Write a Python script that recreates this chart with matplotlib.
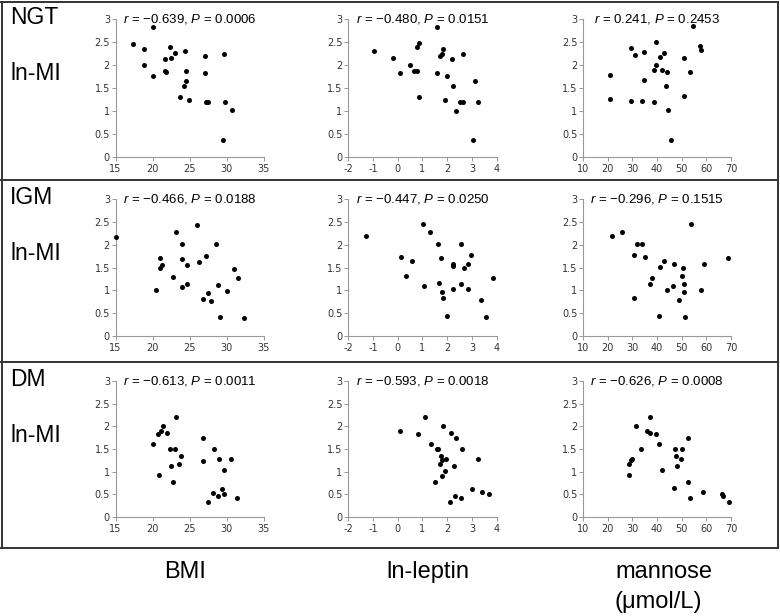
import matplotlib
matplotlib.use("Agg")
import matplotlib.pyplot as plt
from matplotlib.lines import Line2D

plt.rcParams['font.family'] = ['Liberation Sans', 'DejaVu Sans']
plt.rcParams['mathtext.fontset'] = 'custom'
plt.rcParams['mathtext.rm'] = 'Liberation Sans'
plt.rcParams['mathtext.it'] = 'Liberation Sans:italic'
plt.rcParams['axes.unicode_minus'] = False

# ---- data ----
groups = ["NGT", "IGM", "DM"]
x_labels = ["BMI", "ln-leptin", "mannose", "(μmol/L)"]

# NGT
ngt_bmi = [17.3, 20.1, 18.9, 18.8, 20.0, 22.4, 23.0, 22.5, 21.6, 21.6, 21.8, 24.3, 24.5,
           24.5, 24.2, 23.7, 24.9, 27.0, 27.1, 27.2, 27.5, 29.6, 29.8, 30.7, 29.5]
ngt_bmi_mi = [2.46, 2.83, 2.34, 2.00, 1.77, 2.40, 2.27, 2.15, 2.14, 1.88, 1.84, 2.30, 1.88,
              1.65, 1.54, 1.31, 1.25, 2.20, 1.83, 1.20, 1.20, 2.25, 1.19, 1.02, 0.37]
ngt_lep = [-0.96, -0.18, 0.09, 0.49, 0.66, 0.84, 0.77, 0.86, 0.78, 1.57, 1.57, 1.72, 1.79,
           1.83, 1.99, 2.18, 2.23, 1.92, 2.34, 2.52, 2.63, 2.63, 3.13, 3.22, 3.02]
ngt_lep_mi = [2.30, 2.15, 1.83, 2.00, 1.87, 1.31, 2.40, 2.47, 1.88, 2.82, 1.83, 2.20, 2.25,
              2.34, 1.76, 2.14, 1.54, 1.25, 1.01, 1.20, 1.20, 2.25, 1.65, 1.19, 0.37]
ngt_man = [20.8, 21.1, 29.3, 31.1, 29.3, 34.7, 34.7, 33.8, 38.6, 38.9, 39.5, 39.5, 41.2,
           41.9, 42.7, 44.1, 43.8, 44.3, 45.5, 51.1, 50.8, 53.4, 54.5, 57.3, 57.7]
ngt_man_mi = [1.78, 1.26, 2.36, 2.21, 1.21, 2.28, 1.67, 1.21, 1.19, 1.89, 2.49, 2.01, 2.17,
              1.89, 2.27, 1.85, 1.55, 1.02, 0.37, 2.15, 1.32, 1.85, 2.84, 2.41, 2.32]

# IGM
igm_bmi = [15.0, 20.4, 21.05, 21.05, 21.2, 22.8, 23.1, 23.9, 24.0, 24.0, 24.6, 24.6, 26.0,
           26.2, 26.8, 27.2, 27.5, 27.8, 28.5, 28.8, 29.1, 30.0, 30.9, 31.5, 32.3]
igm_bmi_mi = [2.16, 1.00, 1.71, 1.50, 1.56, 1.29, 2.27, 1.68, 2.02, 1.08, 1.13, 1.56, 2.44,
              1.63, 0.82, 1.76, 0.94, 0.76, 2.01, 1.11, 0.41, 0.99, 1.47, 1.26, 0.40]
igm_lep = [-1.27, 0.14, 0.32, 0.57, 1.04, 1.07, 1.32, 1.62, 1.68, 1.73, 1.77, 1.81, 1.97,
           2.23, 2.22, 2.23, 2.57, 2.54, 2.68, 2.82, 2.85, 2.95, 3.34, 3.55, 3.84]
igm_lep_mi = [2.18, 1.72, 1.31, 1.65, 2.45, 1.10, 2.28, 2.02, 1.15, 1.71, 0.97, 0.84, 0.44,
              1.58, 1.53, 1.02, 2.02, 1.13, 1.49, 1.58, 1.02, 1.77, 0.78, 0.42, 1.28]
igm_man = [21.9, 25.8, 30.5, 31.9, 33.8, 30.8, 35.0, 38.1, 37.2, 41.1, 40.9, 43.0, 44.1,
           46.9, 46.6, 48.9, 50.1, 50.7, 50.9, 50.8, 51.5, 53.8, 58.0, 59.2, 68.6]
igm_man_mi = [2.18, 2.28, 1.77, 2.02, 2.02, 0.84, 1.72, 1.28, 1.13, 1.52, 0.44, 1.64, 1.01,
              1.58, 1.09, 0.78, 1.31, 1.48, 1.14, 0.96, 0.42, 2.45, 1.01, 1.58, 1.70]

# DM
dm_bmi = [20.1, 20.7, 21.1, 21.4, 21.9, 20.8, 22.3, 23.0, 23.1, 22.5, 22.7, 23.5, 23.8,
          26.8, 26.8, 27.5, 28.1, 28.3, 28.8, 28.9, 29.3, 29.6, 29.6, 30.6, 31.4]
dm_bmi_mi = [1.62, 1.82, 1.89, 2.01, 1.85, 0.92, 1.51, 1.51, 2.20, 1.12, 0.77, 1.17, 1.35,
             1.75, 1.24, 0.32, 0.54, 1.51, 0.46, 1.27, 0.62, 1.03, 0.50, 1.27, 0.42]
dm_lep = [0.08, 0.82, 1.12, 1.35, 1.59, 1.63, 1.81, 1.76, 1.80, 1.72, 1.93, 1.91, 1.80,
          1.49, 2.09, 2.15, 2.34, 2.26, 2.32, 2.55, 2.60, 3.25, 3.01, 3.38, 3.68]
dm_lep_mi = [1.89, 1.83, 2.20, 1.61, 1.50, 1.49, 2.01, 1.34, 1.26, 1.17, 1.27, 1.02, 0.91,
             0.77, 0.33, 1.85, 1.74, 1.12, 0.47, 0.42, 1.50, 1.27, 0.62, 0.55, 0.51]
dm_man = [28.6, 28.6, 29.6, 30.0, 31.5, 33.5, 35.9, 37.0, 37.0, 39.6, 40.8, 41.9, 46.9,
          47.4, 47.6, 48.2, 50.1, 49.9, 52.4, 52.4, 53.4, 58.5, 66.4, 66.9, 69.1]
dm_man_mi = [1.18, 0.93, 1.25, 1.28, 2.01, 1.51, 1.89, 1.85, 2.20, 1.83, 1.62, 1.04, 0.63,
             1.51, 1.35, 1.13, 1.51, 1.28, 1.75, 0.78, 0.43, 0.56, 0.51, 0.47, 0.33]

r_values = [[-0.639, -0.480, 0.241], [-0.466, -0.447, -0.296], [-0.613, -0.593, -0.626]]
p_values = [["0.0006", "0.0151", "0.2453"], ["0.0188", "0.0250", "0.1515"],
            ["0.0011", "0.0018", "0.0008"]]

panels = [[(ngt_bmi, ngt_bmi_mi), (ngt_lep, ngt_lep_mi), (ngt_man, ngt_man_mi)],
          [(igm_bmi, igm_bmi_mi), (igm_lep, igm_lep_mi), (igm_man, igm_man_mi)],
          [(dm_bmi, dm_bmi_mi), (dm_lep, dm_lep_mi), (dm_man, dm_man_mi)]]

x_limits = [(15, 35, 5), (-2, 4, 1), (10, 70, 10)]

# ---- layout in pixels ----
W, H = 780, 616
col_px = [(115.5, 264), (348, 497), (583, 731)]
row_px = [(19, 157), (199, 336), (381, 517)]

fig = plt.figure(figsize=(W / 100, H / 100), dpi=100)

for i in range(3):
    for j in range(3):
        l, r = col_px[j]
        t, b = row_px[i]
        ax = fig.add_axes([l / W, 1 - b / H, (r - l) / W, (b - t) / H])
        xs, ys = panels[i][j]
        ax.scatter(xs, ys, s=13, color='black', linewidths=0, clip_on=False, zorder=3)
        lo, hi, step = x_limits[j]
        ax.set_xlim(lo, hi)
        ax.set_ylim(0, 3)
        ax.set_xticks(range(lo, hi + 1, step))
        ax.set_yticks([0, 0.5, 1, 1.5, 2, 2.5, 3])
        ax.set_yticklabels(["0", "0.5", "1", "1.5", "2", "2.5", "3"])
        for s in ['top', 'right']:
            ax.spines[s].set_visible(False)
        for s in ['left', 'bottom']:
            ax.spines[s].set_color('#999999')
            ax.spines[s].set_linewidth(0.8)
        ax.tick_params(length=3, width=0.7, color='#999999', labelcolor='#333333',
                       labelsize=7)
        ax.tick_params(axis='y', pad=1)
        ax.tick_params(axis='x', pad=2)
        for lab in ax.get_xticklabels() + ax.get_yticklabels():
            lab.set_family('DejaVu Sans')
        rv = f"{r_values[i][j]:.3f}".replace("-", "\u2212")
        ax.text(0.5, 1.0, rf"$\mathit{{r}}$ = {rv}, $\mathit{{P}}$ = {p_values[i][j]}",
                transform=ax.transAxes, ha='center', va='center', fontsize=9.5)

# row labels
row_label_y = [18, 198, 380]
for i, g in enumerate(groups):
    y0 = row_label_y[i]
    fig.text(10 / W, 1 - y0 / H, g, fontsize=16.5, ha='left', va='center')
    fig.text(10 / W, 1 - (y0 + 55) / H, "ln-MI", fontsize=16.5, ha='left', va='center')

# boxes around rows
box_c = '#333333'
for yb in [1.5, 180, 362, 548]:
    fig.add_artist(Line2D([1 / W, 778 / W], [1 - yb / H, 1 - yb / H], color=box_c, lw=1.4))
for xb in [1.5, 777.5]:
    fig.add_artist(Line2D([xb / W, xb / W], [1 - 1.5 / H, 1 - 548 / H], color=box_c, lw=1.4))

# bottom x labels
base1, base2 = 578, 608
fig.text(185 / W, 1 - base1 / H, x_labels[0], fontsize=17, ha='center', va='baseline')
fig.text(428 / W, 1 - base1 / H, x_labels[1], fontsize=17, ha='center', va='baseline')
fig.text(615 / W, 1 - base1 / H, x_labels[2], fontsize=17, ha='left', va='baseline')
fig.text(615 / W, 1 - base2 / H, x_labels[3], fontsize=17, ha='left', va='baseline')

fig.savefig("out.png", dpi=100)
